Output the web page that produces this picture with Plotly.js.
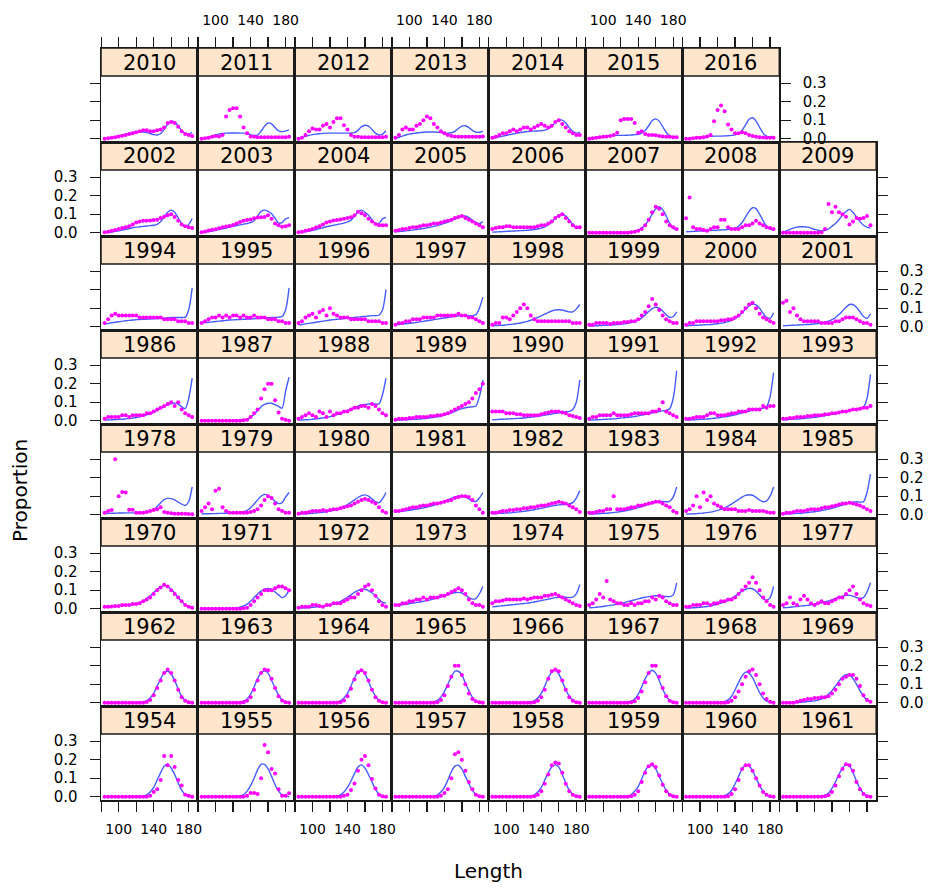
<!DOCTYPE html>
<html>
<head>
<meta charset="utf-8">
<script src="https://cdn.plot.ly/plotly-3.0.1.min.js"></script>
<style>html,body{margin:0;padding:0;background:#fff}</style>
</head>
<body>
<div id="chart" style="width:928px;height:889px"></div>
<script>
// Length classes (cm) shared by every panel
const lengths = [84,88,92,96,100,104,108,112,116,120,124,128,132,136,140,144,148,152,156,160,164,168,172,176,180,184];

// Panel years, filled left to right, bottom row first
const panelYears = [1954,1955,1956,1957,1958,1959,1960,1961,
  1962,1963,1964,1965,1966,1967,1968,1969,
  1970,1971,1972,1973,1974,1975,1976,1977,
  1978,1979,1980,1981,1982,1983,1984,1985,
  1986,1987,1988,1989,1990,1991,1992,1993,
  1994,1995,1996,1997,1998,1999,2000,2001,
  2002,2003,2004,2005,2006,2007,2008,2009,
  2010,2011,2012,2013,2014,2015,2016];

// Observed proportion at length (points) and fitted proportion (line), per year
const prop1954 = [0,0,0,0,0,0,0,0,0,0,0,0,0,.005,.025,.04,.09,.22,.17,.22,.16,.09,.06,.01,.005,0];
const fit1954  = [0,0,0,0,0,0,0,0,0,0,.001,.003,.01,.025,.05,.09,.13,.165,.175,.155,.12,.075,.035,.012,.003,0];
const prop1955 = [0,0,0,0,0,0,0,0,0,0,0,0,0,.005,.02,.02,.015,.1,.28,.24,.15,.125,.04,.005,.005,.018];
const fit1955  = [0,0,0,0,0,0,0,0,0,0,.001,.004,.012,.03,.06,.1,.145,.175,.175,.15,.11,.065,.03,.01,.003,0];
const prop1956 = [0,0,0,0,0,0,0,0,0,0,0,0,0,.005,.01,.036,.072,.14,.2,.22,.17,.096,.045,.01,.003,0];
const fit1956  = [0,0,0,0,0,0,0,0,0,0,.001,.004,.01,.025,.05,.085,.125,.16,.172,.155,.12,.08,.04,.015,.004,0];
const prop1957 = [0,0,0,0,0,0,0,0,0,0,0,0,0,.005,.02,.04,.1,.23,.24,.2,.14,.08,.04,.01,.003,0];
const fit1957  = [0,0,0,0,0,0,0,0,0,0,.001,.003,.01,.025,.05,.09,.135,.165,.17,.15,.11,.07,.035,.012,.003,0];
const prop1958 = [0,0,0,0,0,0,0,0,0,0,0,0,.002,.01,.03,.07,.12,.17,.185,.18,.13,.07,.03,.01,.003,0];
const fit1958  = [0,0,0,0,0,0,0,0,0,0,.001,.003,.01,.025,.05,.09,.13,.16,.172,.16,.12,.075,.035,.012,.003,0];
const prop1959 = [0,0,0,0,0,0,0,0,0,0,0,0,.002,.01,.03,.08,.13,.165,.175,.16,.115,.065,.03,.01,.003,0];
const fit1959  = [0,0,0,0,0,0,0,0,0,0,.001,.004,.012,.03,.055,.095,.14,.165,.17,.15,.11,.07,.035,.012,.003,0];
const prop1960 = [0,0,0,0,0,0,0,0,0,0,0,0,.003,.015,.04,.09,.15,.17,.17,.14,.1,.06,.025,.01,.002,0];
const fit1960  = [0,0,0,0,0,0,0,0,0,0,.002,.006,.015,.035,.07,.11,.15,.17,.165,.14,.1,.06,.03,.01,.002,0];
const prop1961 = [0,0,0,0,0,0,0,0,0,0,0,0,.002,.008,.025,.06,.11,.15,.175,.17,.14,.08,.04,.015,.003,0];
const fit1961  = [0,0,0,0,0,0,0,0,0,0,.001,.003,.008,.02,.045,.08,.12,.155,.172,.165,.13,.085,.045,.018,.005,.001];
const prop1962 = [0,0,0,0,0,0,0,0,0,0,0,0,.004,.015,.04,.08,.12,.16,.18,.16,.12,.07,.03,.01,.003,0];
const fit1962  = [0,0,0,0,0,0,0,0,0,0,.001,.004,.01,.025,.05,.09,.13,.16,.17,.155,.12,.075,.035,.012,.003,0];
const prop1963 = [0,0,0,0,0,0,0,0,0,0,0,0,.002,.01,.03,.07,.12,.16,.18,.175,.13,.08,.035,.012,.003,0];
const fit1963  = [0,0,0,0,0,0,0,0,0,0,.001,.003,.008,.02,.045,.085,.13,.16,.172,.16,.12,.08,.04,.015,.004,0];
const prop1964 = [0,0,0,0,0,0,0,0,0,0,0,0,.003,.012,.035,.075,.125,.165,.175,.16,.12,.07,.03,.01,.002,0];
const fit1964  = [0,0,0,0,0,0,0,0,0,0,.001,.004,.01,.025,.05,.09,.135,.165,.172,.155,.115,.07,.035,.012,.003,0];
const prop1965 = [0,0,0,0,0,0,0,0,0,0,0,0,.003,.015,.04,.09,.14,.2,.2,.15,.1,.05,.02,.008,.002,0];
const fit1965  = [0,0,0,0,0,0,0,0,0,0,.002,.005,.013,.03,.06,.1,.14,.17,.17,.15,.105,.065,.03,.01,.002,0];
const prop1966 = [0,0,0,0,0,0,0,0,0,0,0,0,.002,.01,.03,.07,.13,.17,.18,.17,.12,.07,.03,.01,.002,0];
const fit1966  = [0,0,0,0,0,0,0,0,0,0,.001,.004,.01,.025,.05,.09,.135,.165,.175,.155,.115,.07,.035,.012,.003,0];
const prop1967 = [0,0,0,0,0,0,0,0,0,0,0,0,.002,.008,.025,.06,.11,.16,.2,.2,.14,.08,.035,.01,.003,0];
const fit1967  = [0,0,0,0,0,0,0,0,0,0,.001,.003,.008,.02,.045,.085,.13,.16,.175,.16,.12,.075,.035,.012,.003,0];
const prop1968 = [0,0,0,0,0,0,0,0,0,0,0,0,.003,.01,.03,.06,.1,.14,.17,.18,.15,.1,.05,.02,.005,0];
const fit1968  = [0,0,0,0,0,0,0,0,0,0,.002,.006,.015,.035,.07,.11,.145,.165,.16,.135,.095,.055,.025,.008,.002,0];
const prop1969 = [0,0,0,0,.005,.01,.015,.02,.02,.025,.025,.03,.03,.035,.05,.07,.1,.13,.14,.15,.15,.13,.09,.04,.015,.005];
const fit1969  = [0,0,0,0,.001,.002,.004,.006,.008,.01,.014,.02,.03,.045,.065,.09,.115,.14,.152,.15,.13,.1,.065,.035,.015,.005];
const prop1970 = [.01,.01,.012,.015,.015,.02,.02,.02,.025,.025,.03,.04,.05,.06,.08,.1,.115,.13,.12,.1,.08,.06,.04,.02,.01,.005];
const fit1970  = [.008,.009,.01,.012,.014,.016,.018,.02,.023,.027,.033,.042,.055,.07,.088,.105,.118,.125,.12,.105,.085,.06,.04,.022,.012,.008];
const prop1971 = [0,0,0,0,0,0,0,0,0,0,0,0,.002,.005,.02,.04,.06,.08,.1,.1,.1,.11,.12,.12,.11,.1];
const fit1971  = [0,0,0,0,0,0,0,0,.001,.002,.004,.008,.015,.025,.04,.06,.08,.095,.105,.11,.105,.09,.075,.06,.07,.1];
const prop1972 = [.005,.01,.01,.01,.02,.02,.015,.01,.02,.02,.03,.03,.03,.04,.05,.06,.06,.08,.1,.12,.13,.1,.07,.04,.02,.01];
const fit1972  = [.003,.004,.005,.006,.007,.009,.011,.013,.016,.02,.025,.032,.04,.05,.062,.075,.088,.098,.105,.105,.098,.085,.07,.05,.035,.03];
const prop1973 = [.02,.02,.03,.03,.04,.04,.05,.05,.06,.05,.06,.06,.06,.07,.07,.08,.09,.1,.11,.1,.08,.05,.03,.02,.02,.01];
const fit1973  = [.015,.018,.021,.024,.027,.03,.033,.036,.04,.044,.048,.053,.058,.064,.07,.076,.082,.086,.088,.085,.075,.06,.052,.055,.08,.12];
const prop1974 = [.03,.04,.04,.045,.05,.05,.05,.05,.05,.055,.05,.055,.06,.06,.06,.07,.07,.075,.08,.07,.06,.05,.04,.03,.02,.015];
const fit1974  = [.01,.012,.014,.016,.018,.02,.022,.024,.026,.028,.03,.033,.036,.04,.044,.048,.052,.056,.06,.062,.063,.062,.06,.062,.08,.13];
const prop1975 = [.02,.03,.05,.08,.06,.15,.05,.04,.03,.03,.02,.02,.03,.02,.03,.03,.04,.04,.06,.05,.07,.06,.04,.03,.02,.02];
const fit1975  = [.005,.006,.008,.01,.012,.015,.018,.021,.025,.029,.033,.038,.043,.048,.053,.058,.062,.065,.068,.07,.07,.068,.066,.065,.075,.14];
const prop1976 = [.01,.01,.02,.02,.02,.03,.03,.02,.03,.03,.04,.04,.05,.05,.06,.08,.1,.12,.14,.17,.14,.1,.06,.04,.02,.01];
const fit1976  = [.003,.004,.005,.006,.008,.01,.012,.015,.019,.024,.03,.037,.045,.055,.068,.082,.095,.105,.11,.108,.095,.075,.055,.045,.06,.12];
const prop1977 = [.02,.03,.06,.03,.02,.05,.07,.05,.03,.02,.03,.04,.03,.03,.04,.05,.06,.06,.08,.1,.12,.08,.05,.03,.02,.015];
const fit1977  = [.005,.006,.008,.01,.012,.014,.016,.018,.021,.024,.028,.032,.037,.042,.048,.055,.062,.068,.072,.072,.068,.06,.055,.06,.09,.14];
const prop1978 = [.01,.02,.026,.3,.1,.123,.12,.027,.027,.01,.01,.01,.015,.02,.025,.03,.04,.015,.01,.008,.005,.005,.005,.005,.004,.003];
const fit1978  = [.006,.007,.008,.008,.009,.009,.01,.01,.01,.01,.01,.011,.013,.018,.028,.045,.065,.082,.088,.087,.08,.068,.057,.05,.07,.15];
const prop1979 = [.02,.04,.06,.03,.13,.14,.04,.02,.01,.01,.01,.01,.01,.01,.015,.02,.03,.05,.08,.1,.09,.06,.03,.02,.01,.01];
const fit1979  = [.004,.005,.005,.006,.006,.007,.007,.008,.008,.009,.01,.012,.016,.024,.038,.058,.08,.1,.11,.105,.09,.072,.06,.065,.095,.12];
const prop1980 = [.005,.01,.01,.015,.02,.02,.02,.025,.02,.025,.03,.03,.035,.04,.045,.05,.06,.07,.08,.085,.08,.07,.06,.04,.02,.01];
const fit1980  = [.003,.004,.005,.006,.007,.009,.011,.013,.016,.02,.024,.03,.037,.045,.055,.067,.08,.093,.103,.107,.1,.085,.07,.065,.085,.12];
const prop1981 = [.02,.02,.025,.03,.035,.04,.04,.045,.05,.05,.055,.06,.06,.065,.07,.075,.08,.09,.095,.1,.1,.095,.08,.05,.03,.01];
const fit1981  = [.015,.017,.019,.021,.024,.027,.03,.033,.037,.041,.046,.051,.057,.064,.072,.08,.088,.095,.1,.1,.095,.085,.075,.072,.09,.12];
const prop1982 = [.01,.01,.015,.02,.02,.025,.025,.03,.03,.035,.035,.04,.04,.045,.05,.05,.055,.06,.065,.07,.065,.06,.05,.04,.03,.015];
const fit1982  = [.005,.006,.007,.008,.009,.01,.012,.014,.016,.018,.021,.024,.027,.031,.035,.039,.043,.047,.05,.053,.055,.056,.058,.065,.09,.13];
const prop1983 = [.01,.01,.015,.02,.02,.03,.03,.1,.03,.03,.03,.035,.04,.04,.05,.05,.055,.06,.065,.07,.07,.06,.05,.04,.02,.01];
const fit1983  = [.003,.004,.005,.006,.007,.008,.01,.012,.014,.017,.02,.024,.028,.033,.038,.044,.05,.056,.062,.067,.07,.071,.07,.072,.095,.15];
const prop1984 = [.02,.03,.05,.1,.04,.12,.08,.1,.06,.05,.04,.03,.03,.03,.03,.02,.02,.02,.025,.02,.02,.02,.02,.015,.01,.01];
const fit1984  = [.003,.004,.005,.006,.007,.009,.011,.014,.018,.023,.029,.037,.046,.057,.07,.083,.095,.104,.108,.105,.094,.08,.07,.075,.1,.15];
const prop1985 = [.005,.01,.01,.015,.02,.02,.02,.025,.03,.03,.03,.035,.04,.04,.045,.05,.055,.06,.06,.065,.06,.055,.05,.04,.03,.02];
const fit1985  = [.003,.004,.005,.006,.007,.008,.01,.012,.014,.016,.019,.022,.026,.03,.035,.04,.046,.052,.058,.064,.068,.07,.068,.07,.12,.22];
const prop1986 = [.01,.02,.02,.02,.02,.03,.03,.02,.03,.03,.03,.03,.04,.04,.05,.06,.07,.08,.09,.1,.08,.1,.06,.04,.03,.02];
const fit1986  = [.003,.004,.005,.006,.007,.008,.01,.012,.014,.017,.021,.026,.032,.039,.047,.056,.066,.076,.085,.092,.095,.09,.075,.065,.12,.23];
const prop1987 = [0,0,0,0,0,0,0,0,0,0,0,0,.002,.005,.02,.04,.06,.12,.17,.2,.2,.11,.045,.01,.005,0];
const fit1987  = [0,0,0,0,0,0,0,0,0,0,.001,.002,.004,.008,.018,.035,.055,.075,.088,.094,.094,.087,.077,.068,.16,.235];
const prop1988 = [.01,.02,.03,.04,.03,.02,.05,.04,.02,.05,.03,.04,.04,.05,.05,.06,.07,.07,.08,.08,.07,.09,.08,.06,.04,.03];
const fit1988  = [.003,.004,.005,.006,.008,.01,.012,.015,.018,.022,.027,.033,.04,.048,.056,.064,.072,.079,.085,.088,.09,.09,.09,.09,.14,.23];
const prop1989 = [.005,.01,.01,.01,.015,.015,.02,.02,.02,.02,.025,.025,.03,.03,.035,.04,.05,.06,.07,.08,.09,.1,.12,.15,.17,.2];
const fit1989  = [.002,.003,.004,.005,.006,.007,.008,.009,.011,.013,.015,.018,.021,.025,.03,.036,.043,.05,.058,.065,.07,.073,.075,.08,.13,.22];
const prop1990 = [.05,.05,.05,.05,.04,.04,.04,.035,.035,.03,.03,.03,.03,.03,.035,.04,.045,.05,.05,.05,.045,.04,.03,.025,.02,.015];
const fit1990  = [.005,.006,.007,.008,.009,.01,.011,.012,.013,.015,.017,.019,.021,.024,.027,.03,.033,.036,.04,.043,.046,.048,.05,.06,.1,.22];
const prop1991 = [.01,.02,.02,.03,.03,.03,.03,.04,.03,.03,.03,.03,.035,.04,.04,.04,.04,.04,.05,.05,.06,.1,.05,.04,.03,.02];
const fit1991  = [.003,.004,.005,.006,.007,.008,.009,.01,.012,.014,.016,.018,.02,.023,.026,.03,.034,.038,.042,.046,.05,.053,.055,.065,.12,.27];
const prop1992 = [.01,.01,.015,.02,.02,.02,.03,.04,.04,.03,.03,.03,.035,.04,.04,.05,.05,.05,.06,.06,.06,.06,.08,.07,.08,.08];
const fit1992  = [.003,.004,.005,.006,.007,.008,.009,.011,.013,.015,.018,.021,.024,.028,.032,.037,.042,.047,.052,.057,.062,.066,.068,.075,.13,.26];
const prop1993 = [.01,.01,.015,.015,.02,.02,.02,.025,.025,.03,.03,.03,.035,.035,.04,.04,.045,.05,.05,.055,.06,.06,.065,.07,.07,.08];
const fit1993  = [.005,.006,.007,.008,.009,.01,.012,.014,.016,.018,.021,.024,.027,.031,.035,.039,.043,.047,.051,.055,.059,.062,.065,.072,.12,.25];
const prop1994 = [.02,.04,.06,.07,.06,.06,.06,.06,.06,.06,.05,.05,.05,.05,.05,.05,.05,.04,.04,.04,.04,.03,.03,.03,.02,.02];
const fit1994  = [.015,.018,.021,.024,.027,.03,.032,.034,.036,.038,.039,.04,.041,.042,.043,.044,.045,.046,.048,.05,.05,.05,.05,.05,.09,.21];
const prop1995 = [.02,.03,.04,.05,.05,.06,.05,.06,.05,.06,.06,.05,.06,.05,.05,.06,.05,.05,.05,.04,.04,.04,.03,.03,.02,.02];
const fit1995  = [.02,.022,.024,.026,.028,.03,.032,.034,.036,.037,.038,.039,.04,.041,.042,.043,.044,.045,.046,.048,.05,.05,.052,.055,.09,.21];
const prop1996 = [.02,.03,.05,.06,.07,.05,.08,.09,.06,.1,.07,.06,.05,.05,.05,.04,.04,.04,.04,.04,.03,.03,.03,.03,.02,.02];
const fit1996  = [.01,.012,.015,.018,.021,.024,.027,.03,.033,.036,.038,.04,.042,.044,.046,.048,.05,.052,.054,.056,.058,.06,.06,.062,.09,.2];
const prop1997 = [.01,.02,.02,.03,.03,.04,.04,.04,.05,.05,.05,.05,.06,.06,.06,.06,.06,.06,.07,.06,.06,.05,.05,.04,.03,.02];
const fit1997  = [.01,.012,.014,.016,.018,.02,.023,.026,.029,.032,.035,.038,.041,.044,.047,.05,.053,.056,.058,.06,.06,.06,.06,.065,.1,.16];
const prop1998 = [.01,.02,.02,.05,.05,.04,.06,.08,.1,.12,.1,.06,.04,.03,.03,.03,.03,.03,.03,.03,.03,.03,.03,.02,.02,.02];
const fit1998  = [.005,.006,.007,.008,.01,.012,.014,.017,.02,.024,.029,.035,.042,.05,.059,.068,.077,.085,.09,.092,.09,.085,.08,.08,.095,.12];
const prop1999 = [.01,.01,.02,.02,.02,.02,.015,.02,.02,.02,.025,.025,.03,.03,.04,.06,.08,.11,.15,.12,.09,.06,.04,.03,.02,.02];
const fit1999  = [.003,.004,.005,.006,.007,.008,.009,.01,.011,.013,.015,.018,.022,.028,.036,.048,.064,.082,.098,.105,.1,.085,.065,.05,.055,.08];
const prop2000 = [.01,.02,.02,.03,.03,.03,.03,.03,.03,.03,.035,.035,.04,.04,.05,.06,.08,.1,.12,.13,.1,.07,.05,.04,.03,.02];
const fit2000  = [.005,.006,.007,.008,.009,.01,.011,.012,.014,.016,.019,.022,.027,.034,.044,.058,.075,.095,.112,.122,.118,.1,.072,.05,.045,.075];
const prop2001 = [.13,.14,.08,.1,.06,.04,.03,.03,.03,.03,.03,.02,.02,.02,.02,.03,.03,.04,.05,.05,.05,.04,.03,.02,.02,.01];
const fit2001  = [.005,.006,.007,.008,.009,.01,.011,.012,.013,.015,.017,.02,.024,.03,.038,.05,.066,.085,.105,.12,.12,.105,.08,.055,.045,.07];
const prop2002 = [.002,.005,.01,.015,.02,.025,.03,.035,.045,.055,.06,.065,.065,.066,.068,.07,.08,.086,.095,.1,.085,.065,.045,.035,.029,.025];
const fit2002  = [.001,.002,.004,.007,.01,.014,.018,.022,.026,.03,.032,.034,.036,.038,.04,.045,.06,.085,.11,.122,.11,.08,.05,.032,.045,.077];
const prop2003 = [.002,.006,.012,.016,.018,.024,.03,.034,.036,.042,.05,.058,.065,.068,.072,.078,.082,.083,.085,.095,.075,.05,.04,.032,.035,.04];
const fit2003  = [.001,.003,.006,.009,.013,.017,.021,.025,.03,.034,.038,.042,.046,.05,.055,.065,.09,.115,.122,.115,.102,.078,.052,.055,.075,.08];
const prop2004 = [.002,.005,.01,.015,.02,.028,.035,.045,.055,.06,.066,.068,.072,.076,.08,.083,.095,.113,.105,.095,.075,.06,.047,.04,.04,.04];
const fit2004  = [.001,.003,.006,.009,.013,.017,.022,.027,.032,.036,.04,.044,.048,.052,.058,.068,.09,.112,.122,.11,.095,.07,.05,.05,.075,.083];
const prop2005 = [.01,.015,.02,.02,.025,.03,.03,.035,.04,.04,.045,.05,.05,.055,.06,.065,.07,.08,.085,.09,.08,.07,.06,.05,.04,.03];
const fit2005  = [.005,.006,.008,.01,.012,.014,.017,.02,.023,.026,.03,.034,.039,.044,.05,.057,.065,.074,.083,.09,.09,.082,.068,.055,.05,.06];
const prop2006 = [.02,.025,.03,.03,.035,.035,.03,.03,.03,.03,.03,.03,.03,.035,.04,.04,.05,.06,.08,.09,.1,.08,.06,.04,.03,.03];
const fit2006  = [.003,.004,.005,.006,.007,.008,.009,.01,.011,.012,.013,.015,.017,.02,.025,.032,.043,.058,.077,.095,.1,.09,.068,.045,.03,.025];
const prop2007 = [0,0,0,0,0,0,0,0,0,0,0,0,.002,.005,.01,.02,.04,.07,.11,.14,.13,.1,.06,.04,.03,.02];
const fit2007  = [0,0,0,0,0,0,0,0,0,0,.001,.002,.004,.007,.013,.024,.042,.068,.1,.128,.14,.125,.09,.05,.025,.012];
const prop2008 = [.078,.19,.03,.02,.02,.015,.01,.02,.03,.03,.07,.07,.03,.02,.02,.02,.03,.04,.04,.05,.065,.05,.04,.03,.025,.02];
const fit2008  = [.005,.006,.007,.008,.009,.01,.011,.012,.013,.014,.015,.016,.018,.02,.025,.035,.055,.085,.115,.135,.13,.1,.065,.035,.02,.015];
const prop2009 = [0,0,0,0,0,0,0,0,0,0,0,.002,.02,.155,.11,.14,.11,.1,.086,.045,.06,.08,.075,.08,.09,.04];
const fit2009  = [.003,.01,.018,.025,.03,.032,.032,.03,.025,.018,.013,.01,.012,.02,.035,.05,.07,.095,.115,.126,.11,.085,.06,.04,.03,.025];
const prop2010 = [0,.002,.005,.008,.012,.016,.02,.025,.03,.035,.04,.045,.045,.04,.04,.045,.05,.06,.085,.09,.085,.065,.04,.025,.02,.015];
const fit2010  = [.002,.004,.007,.01,.014,.018,.023,.028,.033,.036,.037,.036,.033,.028,.022,.02,.028,.05,.078,.094,.09,.07,.045,.028,.025,.035];
const prop2011 = [0,.002,.005,.01,.015,.012,.02,.12,.155,.165,.165,.12,.06,.03,.012,.01,.008,.008,.008,.008,.008,.008,.008,.008,.008,.01];
const fit2011  = [0,.003,.008,.014,.02,.025,.028,.03,.031,.031,.031,.03,.03,.028,.022,.017,.02,.04,.068,.085,.08,.06,.042,.038,.042,.048];
const prop2012 = [0,.005,.02,.04,.055,.05,.05,.07,.08,.06,.09,.11,.11,.073,.05,.02,.01,.01,.008,.008,.008,.008,.008,.008,.008,.01];
const fit2012  = [.001,.006,.012,.018,.022,.025,.027,.029,.03,.03,.03,.03,.03,.03,.03,.031,.033,.045,.065,.073,.068,.05,.03,.02,.025,.043];
const prop2013 = [.005,.02,.05,.06,.05,.05,.07,.08,.1,.12,.11,.08,.06,.04,.03,.02,.015,.012,.01,.01,.01,.01,.01,.01,.01,.012];
const fit2013  = [.002,.008,.014,.02,.025,.028,.031,.033,.035,.036,.036,.036,.035,.033,.031,.03,.032,.04,.055,.068,.07,.06,.045,.035,.035,.04];
const prop2014 = [.005,.01,.02,.03,.03,.04,.05,.04,.05,.06,.06,.05,.06,.07,.08,.07,.06,.07,.09,.1,.08,.06,.04,.03,.02,.02];
const fit2014  = [.003,.006,.01,.014,.018,.022,.026,.03,.033,.036,.038,.04,.041,.042,.043,.046,.054,.068,.086,.1,.1,.085,.06,.04,.03,.035];
const prop2015 = [0,.002,.005,.008,.01,.012,.015,.02,.032,.1,.107,.107,.107,.085,.032,.04,.025,.02,.02,.018,.015,.012,.01,.01,.008,.008];
const fit2015  = [.001,.003,.006,.009,.012,.014,.016,.017,.018,.018,.018,.019,.02,.022,.024,.03,.045,.07,.098,.107,.095,.065,.035,.015,.01,.012];
const prop2016 = [0,0,.002,.005,.005,.008,.012,.02,.094,.155,.18,.149,.077,.05,.03,.03,.035,.03,.02,.015,.01,.008,.006,.005,.005,.005];
const fit2016  = [.001,.002,.004,.006,.008,.01,.012,.013,.014,.014,.014,.015,.016,.018,.021,.028,.045,.075,.105,.113,.095,.062,.03,.014,.01,.012];

// Axis ticks
const xTickVals = [80,100,120,140,160,180];
const xTickText = ['','100','','140','','180'];
const yTickVals = [0,0.1,0.2,0.3];
const yTickText = ['0.0','0.1','0.2','0.3'];

const observedByYear = {
  1954:prop1954,1955:prop1955,1956:prop1956,1957:prop1957,1958:prop1958,1959:prop1959,1960:prop1960,1961:prop1961,
  1962:prop1962,1963:prop1963,1964:prop1964,1965:prop1965,1966:prop1966,1967:prop1967,1968:prop1968,1969:prop1969,
  1970:prop1970,1971:prop1971,1972:prop1972,1973:prop1973,1974:prop1974,1975:prop1975,1976:prop1976,1977:prop1977,
  1978:prop1978,1979:prop1979,1980:prop1980,1981:prop1981,1982:prop1982,1983:prop1983,1984:prop1984,1985:prop1985,
  1986:prop1986,1987:prop1987,1988:prop1988,1989:prop1989,1990:prop1990,1991:prop1991,1992:prop1992,1993:prop1993,
  1994:prop1994,1995:prop1995,1996:prop1996,1997:prop1997,1998:prop1998,1999:prop1999,2000:prop2000,2001:prop2001,
  2002:prop2002,2003:prop2003,2004:prop2004,2005:prop2005,2006:prop2006,2007:prop2007,2008:prop2008,2009:prop2009,
  2010:prop2010,2011:prop2011,2012:prop2012,2013:prop2013,2014:prop2014,2015:prop2015,2016:prop2016
};
const fittedByYear = {
  1954:fit1954,1955:fit1955,1956:fit1956,1957:fit1957,1958:fit1958,1959:fit1959,1960:fit1960,1961:fit1961,
  1962:fit1962,1963:fit1963,1964:fit1964,1965:fit1965,1966:fit1966,1967:fit1967,1968:fit1968,1969:fit1969,
  1970:fit1970,1971:fit1971,1972:fit1972,1973:fit1973,1974:fit1974,1975:fit1975,1976:fit1976,1977:fit1977,
  1978:fit1978,1979:fit1979,1980:fit1980,1981:fit1981,1982:fit1982,1983:fit1983,1984:fit1984,1985:fit1985,
  1986:fit1986,1987:fit1987,1988:fit1988,1989:fit1989,1990:fit1990,1991:fit1991,1992:fit1992,1993:fit1993,
  1994:fit1994,1995:fit1995,1996:fit1996,1997:fit1997,1998:fit1998,1999:fit1999,2000:fit2000,2001:fit2001,
  2002:fit2002,2003:fit2003,2004:fit2004,2005:fit2005,2006:fit2006,2007:fit2007,2008:fit2008,2009:fit2009,
  2010:fit2010,2011:fit2011,2012:fit2012,2013:fit2013,2014:fit2014,2015:fit2015,2016:fit2016
};

// Page geometry (pixels)
const W = 928, H = 889;
const COL_LEFT = 101, COL_W = 96.9;
const ROW_TOP = 48, ROW_H = 94, STRIP_H = 28;
const PX_PER_X = 0.875, PX_PER_Y = 185, ZERO_OFFSET = 3.3;
const NCOL = 8, NROW = 8;

const xRange = [79.8, 79.8 + COL_W / PX_PER_X];
const yLow = -ZERO_OFFSET / PX_PER_Y;
const yRange = [yLow, yLow + ROW_H / PX_PER_Y];

const FONT = 'DejaVu Sans, Verdana, sans-serif';
const LINE_COLOR = 'rgb(70,92,255)';
const POINT_COLOR = '#ff00ff';
const STRIP_FILL = '#ffe5cc';
const FRAME = '#1a1a1a';
const FRAME_W = 1.5;

const traces = [];
const shapes = [];
const annotations = [];
const layout = {
  width: W, height: H,
  margin: {l: 0, r: 0, t: 0, b: 0},
  paper_bgcolor: '#ffffff',
  plot_bgcolor: 'rgba(0,0,0,0)',
  showlegend: false,
  hovermode: false,
  font: {family: FONT, color: '#000'}
};

panelYears.forEach((year, i) => {
  const k = i + 1;
  const suffix = k === 1 ? '' : String(k);
  const col = i % NCOL;
  const row = NROW - 1 - Math.floor(i / NCOL);   // 0 = top row
  const left = COL_LEFT + COL_W * col;
  const right = left + COL_W;
  const top = ROW_TOP + ROW_H * row;
  const bottom = top + ROW_H;
  const stripBottom = top + STRIP_H;

  const isTop = row === 0;
  const isBottom = row === NROW - 1;
  const isLeft = col === 0;
  const isRight = (row === 0 && col === 6) || col === NCOL - 1;

  layout['xaxis' + suffix] = {
    domain: [left / W, right / W],
    anchor: 'y' + suffix,
    range: xRange,
    showline: true, mirror: true, linecolor: FRAME, linewidth: FRAME_W,
    showgrid: false, zeroline: false, fixedrange: true,
    ticks: (isTop || isBottom) ? 'outside' : '',
    side: isTop ? 'top' : 'bottom',
    tickmode: 'array', tickvals: xTickVals, ticktext: xTickText,
    ticklen: 10, tickwidth: 1.3, tickcolor: FRAME,
    ticklabelstandoff: 6,
    showticklabels: (isTop && col % 2 === 1) || (isBottom && col % 2 === 0),
    tickfont: {family: FONT, size: 14, color: '#000'}
  };
  layout['yaxis' + suffix] = {
    domain: [1 - bottom / H, 1 - top / H],
    anchor: 'x' + suffix,
    range: yRange,
    showline: true, mirror: true, linecolor: FRAME, linewidth: FRAME_W,
    showgrid: false, zeroline: false, fixedrange: true,
    ticks: (isLeft || isRight) ? 'outside' : '',
    side: isRight ? 'right' : 'left',
    tickmode: 'array', tickvals: yTickVals, ticktext: yTickText,
    ticklen: 10, tickwidth: 1.3, tickcolor: FRAME,
    ticklabelstandoff: 9,
    showticklabels: (isLeft && row % 2 === 1) || (isRight && row % 2 === 0),
    tickfont: {family: FONT, size: 15, color: '#000'}
  };

  // strip with the year
  shapes.push({
    type: 'rect', xref: 'paper', yref: 'paper', layer: 'below',
    x0: left / W, x1: right / W, y0: 1 - stripBottom / H, y1: 1 - top / H,
    fillcolor: STRIP_FILL, line: {color: FRAME, width: FRAME_W}
  });
  annotations.push({
    xref: 'paper', yref: 'paper', showarrow: false,
    x: (left + right) / 2 / W, y: 1 - (top + STRIP_H / 2 + 0.5) / H,
    xanchor: 'center', yanchor: 'middle',
    text: String(year), font: {family: FONT, size: 21, color: '#000'}
  });

  traces.push({
    type: 'scatter', mode: 'lines', x: lengths, y: fittedByYear[year],
    xaxis: 'x' + suffix, yaxis: 'y' + suffix,
    line: {color: LINE_COLOR, width: 1.4, shape: 'spline', smoothing: 0.8},
    hoverinfo: 'skip'
  });
  traces.push({
    type: 'scatter', mode: 'markers', x: lengths, y: observedByYear[year],
    xaxis: 'x' + suffix, yaxis: 'y' + suffix,
    marker: {color: POINT_COLOR, size: 4, line: {width: 0}},
    hoverinfo: 'skip'
  });
});

// Axis titles
annotations.push({
  xref: 'paper', yref: 'paper', showarrow: false,
  x: (COL_LEFT + COL_W * NCOL / 2) / W, y: 1 - 871 / H,
  xanchor: 'center', yanchor: 'middle',
  text: 'Length', font: {family: FONT, size: 20, color: '#000'}
});
annotations.push({
  xref: 'paper', yref: 'paper', showarrow: false,
  x: 20 / W, y: 1 - 491 / H, textangle: -90,
  xanchor: 'center', yanchor: 'middle',
  text: 'Proportion', font: {family: FONT, size: 20, color: '#000'}
});

layout.shapes = shapes;
layout.annotations = annotations;

Plotly.newPlot('chart', traces, layout, {staticPlot: true, displayModeBar: false});
</script>
</body>
</html>
